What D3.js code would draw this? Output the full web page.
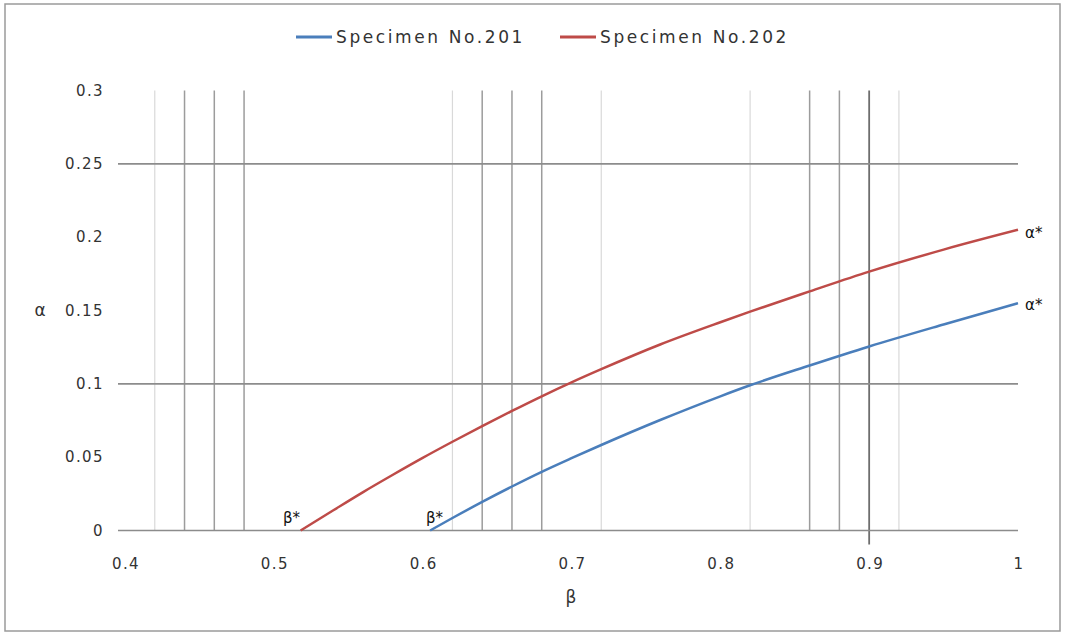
<!DOCTYPE html>
<html>
<head>
<meta charset="utf-8">
<script src="https://cdn.jsdelivr.net/npm/d3@7"></script>
<style>
  body { margin: 0; background: #fff; }
  svg { display: block; }
  text { font-family: "DejaVu Sans", sans-serif; }
</style>
</head>
<body>
<svg id="chart" width="1065" height="634"></svg>
<script>
// ---- data ----
const xTicks = [0.4, 0.5, 0.6, 0.7, 0.8, 0.9, 1];
const xTickLabels = ["0.4", "0.5", "0.6", "0.7", "0.8", "0.9", "1"];
const yTicks = [0, 0.05, 0.1, 0.15, 0.2, 0.25, 0.3];
const yTickLabels = ["0", "0.05", "0.1", "0.15", "0.2", "0.25", "0.3"];
const hGrid = [0.1, 0.25];
const vLight = [0.42, 0.62, 0.72, 0.82, 0.92];
const vMedium = [0.44, 0.46, 0.48, 0.64, 0.66, 0.68, 0.86, 0.88];
const vDark = [0.9];
const seriesNames = ["Specimen No.201", "Specimen No.202"];
const beta201 = [0.605, 0.62, 0.64, 0.66, 0.68, 0.70, 0.72, 0.76, 0.80, 0.82, 0.86, 0.90, 0.95, 1.0];
const alpha201 = [0, 0.0085, 0.0195, 0.030, 0.040, 0.0493, 0.0583, 0.0755, 0.0915, 0.099, 0.1125, 0.1255, 0.1405, 0.155];
const beta202 = [0.518, 0.54, 0.56, 0.58, 0.60, 0.62, 0.64, 0.66, 0.68, 0.70, 0.72, 0.76, 0.80, 0.82, 0.86, 0.90, 0.95, 1.0];
const alpha202 = [0, 0.0138, 0.0262, 0.0380, 0.0495, 0.0605, 0.0712, 0.0815, 0.0915, 0.1010, 0.1100, 0.1270, 0.1420, 0.1492, 0.1630, 0.1765, 0.1915, 0.2050];
const colors = ["#4A7EBB", "#BE4B48"];

// ---- layout ----
const svg = d3.select("#chart");
const x = d3.scaleLinear().domain([0.4, 1]).range([125, 1018]);
const y = d3.scaleLinear().domain([0, 0.3]).range([530.5, 90.5]);

// border
svg.append("rect").attr("x", 5).attr("y", 4).attr("width", 1055).attr("height", 627)
  .attr("fill", "none").attr("stroke", "#9a9a9a").attr("stroke-width", 1.5);

// vertical lines
const vlines = [
  { vals: vLight, color: "#d9d9d9", w: 1.2, ext: 0 },
  { vals: vMedium, color: "#9c9c9c", w: 1.5, ext: 0 },
  { vals: vDark, color: "#6e6e6e", w: 1.8, ext: 14 }
];
vlines.forEach(g => {
  svg.append("g").selectAll("line").data(g.vals).join("line")
    .attr("x1", d => x(d)).attr("x2", d => x(d))
    .attr("y1", y(0.3)).attr("y2", y(0) + g.ext)
    .attr("stroke", g.color).attr("stroke-width", g.w);
});

// horizontal grid lines + axis
svg.append("g").selectAll("line").data([0].concat(hGrid)).join("line")
  .attr("x1", x(0.4) - 7).attr("x2", x(1))
  .attr("y1", d => y(d)).attr("y2", d => y(d))
  .attr("stroke", "#8c8c8c").attr("stroke-width", 1.6);

// y tick labels
svg.append("g").selectAll("text").data(yTicks).join("text")
  .attr("x", 104).attr("y", d => y(d) + 5)
  .attr("text-anchor", "end")
  .attr("font-size", 15).attr("letter-spacing", 1.4).attr("fill", "#333")
  .text((d, i) => yTickLabels[i]);

// x tick labels
svg.append("g").selectAll("text").data(xTicks).join("text")
  .attr("x", d => x(d) + 1).attr("y", 569)
  .attr("text-anchor", "middle")
  .attr("font-size", 15).attr("letter-spacing", 1.4).attr("fill", "#333")
  .text((d, i) => xTickLabels[i]);

// axis titles
svg.append("text").attr("x", 571).attr("y", 603).attr("text-anchor", "middle")
  .attr("font-size", 17).attr("fill", "#333").text("β");
svg.append("text").attr("x", 40).attr("y", 316).attr("text-anchor", "middle")
  .attr("font-size", 17).attr("fill", "#333").text("α");

// series
const line = d3.line().x(d => x(d[0])).y(d => y(d[1])).curve(d3.curveMonotoneX);
const data201 = beta201.map((b, i) => [b, alpha201[i]]);
const data202 = beta202.map((b, i) => [b, alpha202[i]]);
[data201, data202].forEach((dd, i) => {
  svg.append("path").datum(dd).attr("d", line)
    .attr("fill", "none").attr("stroke", colors[i]).attr("stroke-width", 2.5);
});

// annotations
svg.append("text").attr("x", 283).attr("y", 523).attr("font-size", 15).attr("fill", "#111").text("β*");
svg.append("text").attr("x", 426).attr("y", 523).attr("font-size", 15).attr("fill", "#111").text("β*");
svg.append("text").attr("x", 1025).attr("y", 238).attr("font-size", 15).attr("fill", "#111").text("α*");
svg.append("text").attr("x", 1025).attr("y", 310).attr("font-size", 15).attr("fill", "#111").text("α*");

// legend
const legendX = [296, 560];
seriesNames.forEach((n, i) => {
  svg.append("line").attr("x1", legendX[i]).attr("x2", legendX[i] + 36)
    .attr("y1", 37).attr("y2", 37).attr("stroke", colors[i]).attr("stroke-width", 3);
  svg.append("text").attr("x", legendX[i] + 40).attr("y", 43)
    .attr("font-size", 17).attr("letter-spacing", 2.6).attr("fill", "#333").text(n);
});
</script>
</body>
</html>
